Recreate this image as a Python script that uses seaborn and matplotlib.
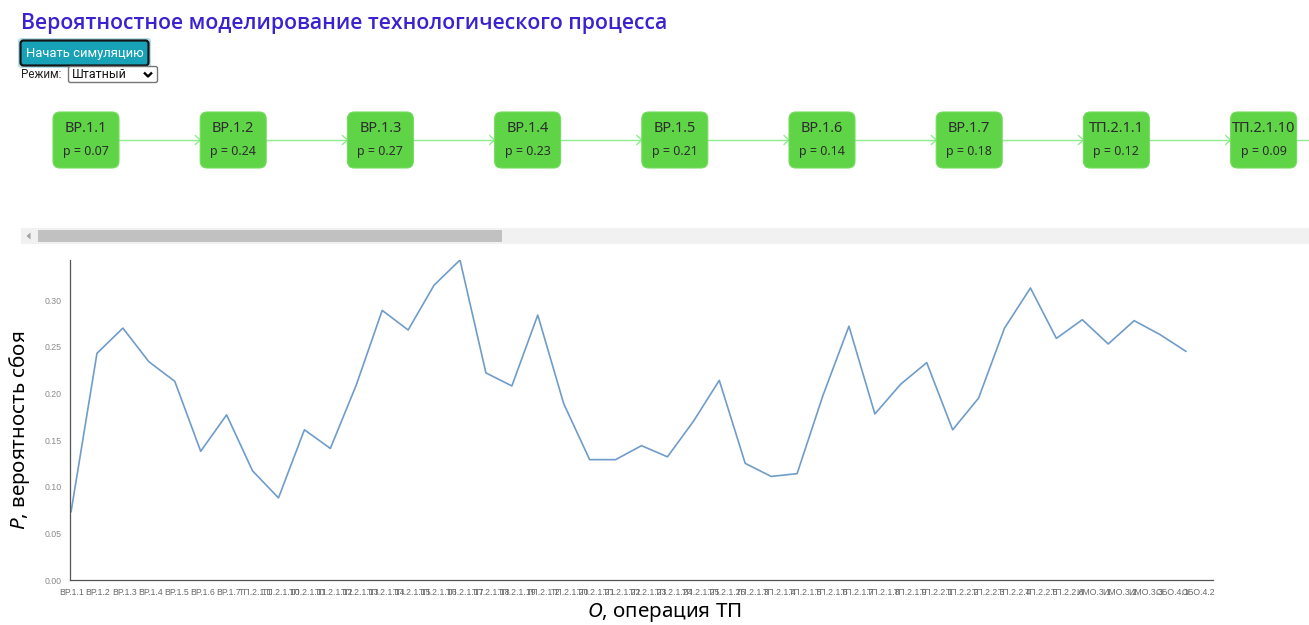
import numpy as np
import pandas as pd
import matplotlib
matplotlib.use("Agg")
import matplotlib.pyplot as plt
from matplotlib.patches import FancyBboxPatch, Rectangle, Polygon
import seaborn as sns

# Operations of the process, in the order they are listed on the axis
operations = [
    "ВР.1.1", "ВР.1.2", "ВР.1.3", "ВР.1.4", "ВР.1.5", "ВР.1.6", "ВР.1.7",
    "ТП.2.1.1", "ТП.2.1.10", "ТП.2.1.11", "ТП.2.1.12", "ТП.2.1.13", "ТП.2.1.14",
    "ТП.2.1.15", "ТП.2.1.16", "ТП.2.1.17", "ТП.2.1.18", "ТП.2.1.19", "ТП.2.1.2",
    "ТП.2.1.20", "ТП.2.1.21", "ТП.2.1.22", "ТП.2.1.23", "ТП.2.1.24", "ТП.2.1.25",
    "ТП.2.1.26", "ТП.2.1.3", "ТП.2.1.4", "ТП.2.1.5", "ТП.2.1.6", "ТП.2.1.7",
    "ТП.2.1.8", "ТП.2.1.9",
    "ТП.2.2.1", "ТП.2.2.2", "ТП.2.2.3", "ТП.2.2.4", "ТП.2.2.5", "ТП.2.2.6",
    "ИМО.3.1", "ИМО.3.2", "ИМО.3.3", "ОБО.4.1", "ОБО.4.2",
]

# Failure probability of each operation
failure_prob = [
    0.073, 0.243, 0.270, 0.234, 0.213, 0.138, 0.177, 0.117, 0.088, 0.161,
    0.141, 0.209, 0.289, 0.268, 0.316, 0.343, 0.222, 0.208, 0.284, 0.189,
    0.129, 0.129, 0.144, 0.132, 0.170, 0.214, 0.125, 0.111, 0.114, 0.198,
    0.272, 0.178, 0.210, 0.233, 0.161, 0.195, 0.270, 0.313, 0.259, 0.279,
    0.253, 0.278, 0.263, 0.245,
]

# Number of operations shown as blocks in the visible part of the flow strip
visible_nodes = 9

y_ticks = [0.00, 0.05, 0.10, 0.15, 0.20, 0.25, 0.30]

sns.set_style("white")
plt.rcParams["font.family"] = ["Noto Sans", "DejaVu Sans"]
plt.rcParams["mathtext.fontset"] = "custom"
plt.rcParams["mathtext.it"] = "Noto Sans:italic"
plt.rcParams["mathtext.rm"] = "Noto Sans"

W, H = 1309, 625
fig = plt.figure(figsize=(W / 100, H / 100), dpi=100)
fig.patch.set_facecolor("white")

# ---- page controls drawn in pixel coordinates ----
ui = fig.add_axes([0, 0, 1, 1])
ui.set_xlim(0, W)
ui.set_ylim(H, 0)
ui.axis("off")

ui.text(21, 23, "Вероятностное моделирование технологического процесса",
        color="#3a22d0", fontsize=15.3, fontweight=600, ha="left",
        va="center", family="Open Sans")

# button with focus ring
ui.add_patch(FancyBboxPatch((18, 38), 133, 30, boxstyle="round,pad=0,rounding_size=3",
                            fc="#b6e1ec", ec="none"))
ui.add_patch(FancyBboxPatch((20.5, 40.5), 128, 25, boxstyle="round,pad=0,rounding_size=3",
                            fc="#17a2b8", ec="#151515", lw=1.6))
ui.text(84.5, 54, "Начать симуляцию", color="white", fontsize=9.4,
        ha="center", va="center", family="Roboto")

# mode selector
ui.text(21, 75, "Режим:", color="#222222", fontsize=8.4, ha="left", va="center",
        family="Roboto")
ui.add_patch(FancyBboxPatch((68.5, 66.5), 89, 16, boxstyle="round,pad=0,rounding_size=2",
                            fc="white", ec="#767676", lw=1))
ui.text(72, 75, "Штатный", color="#111111", fontsize=9, ha="left", va="center",
        family="Roboto")
ui.plot([144, 148, 152], [72.5, 76.5, 72.5], color="black", lw=1.7,
        solid_capstyle="butt")

# flow strip of operation blocks
node_w, node_h, node_top, step = 66, 56, 112, 147.2
line_y = 140
for i in range(visible_nodes):
    x0 = 53 + i * step
    ui.add_patch(FancyBboxPatch((x0, node_top), node_w, node_h,
                                boxstyle="round,pad=0,rounding_size=7",
                                fc="#5fd446", ec="#74dc5e", lw=0.8, zorder=3))
    ui.text(x0 + node_w / 2, 128, operations[i], color="#2d2d2d", fontsize=10.5,
            ha="center", va="center", zorder=4)
    ui.text(x0 + node_w / 2, 151, f"p = {failure_prob[i]:.2f}", color="#2d2d2d",
            fontsize=9, ha="center", va="center", zorder=4)
    x_start = x0 + node_w
    x_end = x0 + step
    ui.plot([x_start, min(x_end, W)], [line_y, line_y], color="#8eed8e", lw=1, zorder=2)
    if x_end < W:
        ui.plot([x_end - 5, x_end, x_end - 5], [line_y - 4.5, line_y, line_y + 4.5],
                color="#8eed8e", lw=1, zorder=2)

# horizontal scrollbar
ui.add_patch(Rectangle((21, 228), W - 21, 16, fc="#f1f1f1", ec="none"))
ui.add_patch(Rectangle((38, 230), 464, 12, fc="#c1c1c1", ec="none"))
ui.add_patch(Polygon([[26.5, 236], [30.5, 232.5], [30.5, 239.5]], closed=True,
                     fc="#a3a3a3", ec="none"))

# ---- probability chart ----
ax = fig.add_axes([70 / W, 1 - 580 / H, (1213 - 70) / W, (580 - 260) / H])
ax.set_facecolor("none")
df = pd.DataFrame({"pos": np.arange(len(failure_prob)), "prob": failure_prob})
sns.lineplot(data=df, x="pos", y="prob", ax=ax, color="#6f9cc9", linewidth=1.2)

ax.set_xlim(-0.04, 44.04)
ax.set_ylim(0, max(failure_prob))
# axis ticks sit on a band scale that is slightly wider than the line's point scale
tick_pos = np.arange(len(operations)) * (26.2 / 25.93) + 0.03
ax.set_xticks(tick_pos)
ax.set_xticklabels(operations, family="Liberation Sans", fontsize=6.3, color="#6a6a6a")
ax.set_yticks(y_ticks)
ax.set_yticklabels([f"{v:.2f}" for v in y_ticks], family="Liberation Sans",
                   fontsize=6.3, color="#8a8a8a")
ax.set_xlabel("")
ax.set_ylabel("")
for side in ("top", "right"):
    ax.spines[side].set_visible(False)
for side in ("left", "bottom"):
    ax.spines[side].set_color("#555555")
    ax.spines[side].set_linewidth(0.9)
ax.tick_params(axis="both", direction="out", length=4.3, width=0.8, color="#555555",
               pad=1.5)
ax.grid(False)

fig.text(20 / W, 1 - 430 / H, "$P$, вероятность сбоя", rotation=90, fontsize=14.8,
         ha="center", va="center", color="black")
fig.text(664 / W, 1 - 613 / H, "$O$, операция ТП", fontsize=14.8,
         ha="center", va="center", color="black")

fig.savefig("out.png", dpi=100, facecolor="white")
